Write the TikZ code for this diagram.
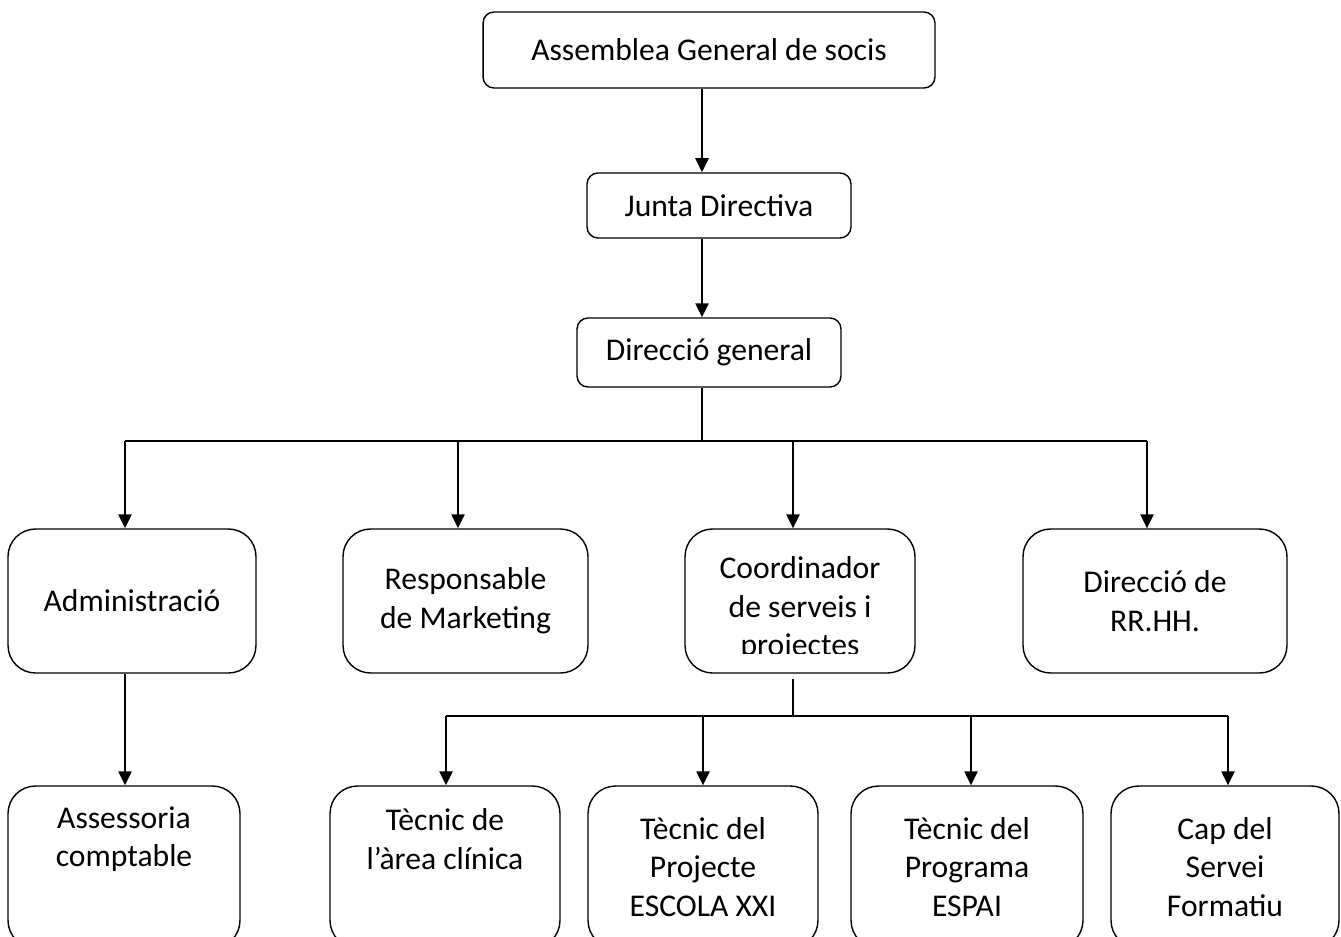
\documentclass[tikz,border=0pt]{standalone}
\usepackage{fontspec}
\setmainfont{Carlito}
\usetikzlibrary{arrows.meta,positioning}

\begin{document}
\begin{tikzpicture}[x=0.02cm,y=-0.02cm,>={Triangle[length=8pt,width=7.5pt]},
                    line width=1.1pt,font=\fontsize{18}{22}\selectfont]
  \tikzstyle{box}=[draw=black,line width=0.8pt,rounded corners=0.22cm,align=center,inner sep=0pt]
  \tikzstyle{midbox}=[box,rounded corners=0.55cm,minimum height=2.88cm]
  \tikzstyle{lowbox}=[box,rounded corners=0.55cm,minimum height=3.24cm]
  \tikzstyle{txt}=[align=center,inner sep=0pt]
  \useasboundingbox (0,0) rectangle (1341,936);

  % top of the chart
  \node[box,minimum width=9.04cm,minimum height=1.52cm] (asm)   at (709,50)    {Assemblea General de socis};
  \node[box,minimum width=5.28cm,minimum height=1.30cm] (junta) at (719,205.5) {Junta Directiva};
  \node[box,minimum width=5.28cm,minimum height=1.38cm] (dir)   at (709,352.5) {Direcció general};

  % second level
  \node[midbox,minimum width=4.96cm] (adm)   at (132,601)   {Administració};
  \node[midbox,minimum width=4.90cm] (mkt)   at (465.5,601) {Responsable\\de Marketing};
  \node[midbox,minimum width=4.60cm] (coord) at (800,601)   {};
  \node[midbox,minimum width=5.28cm] (rrhh)  at (1155,601)  {Direcció de\\RR.HH.};
  \begin{scope}
    \clip (coord.north west) rectangle (915,653);
    \node[txt] (coordtxt) at (800,609) {Coordinador\\de serveis i\\projectes};
  \end{scope}

  % third level
  \node[lowbox,minimum width=4.64cm] (ass)  at (124,867)  {};
  \node[lowbox,minimum width=4.60cm] (clin) at (445,867)  {};
  \node[lowbox,minimum width=4.60cm] (esc)  at (703,867)  {};
  \node[lowbox,minimum width=4.64cm] (esp)  at (967,867)  {};
  \node[lowbox,minimum width=4.56cm] (cap)  at (1225,867) {};
  \node[txt] (asstxt)  at (124,839)  {Assessoria\\comptable};
  \node[txt] (clintxt) at (445,839)  {Tècnic de\\l’àrea clínica};
  \node[txt] (esctxt)  at (703,867)  {Tècnic del\\Projecte\\ESCOLA XXI};
  \node[txt] (esptxt)  at (967,867)  {Tècnic del\\Programa\\ESPAI};
  \node[txt] (captxt)  at (1225,867) {Cap del\\Servei\\Formatiu};

  % connectors
  \coordinate (spine) at (702,441);
  \coordinate (b1) at (125,441);
  \coordinate (b2) at (458,441);
  \coordinate (b3) at (793,441);
  \coordinate (b4) at (1147,441);
  \coordinate (c0) at (793,679);
  \coordinate (c1) at (446,716);
  \coordinate (c2) at (703,716);
  \coordinate (c3) at (971,716);
  \coordinate (c4) at (1228,716);

  \draw[->] (asm.south -| spine) -- (junta.north -| spine);
  \draw[->] (junta.south -| spine) -- (dir.north -| spine);
  \draw (dir.south -| spine) -- (spine);
  \draw (b1) -- (b4);
  \foreach \c/\n in {b1/adm,b2/mkt,b3/coord,b4/rrhh}
    \draw[->] (\c) -- (\c |- \n.north);
  \draw[->] (adm.south -| b1) -- (ass.north -| b1);
  \draw (c0) -- (c0 |- c1);
  \draw (c1) -- (c4);
  \foreach \c/\n in {c1/clin,c2/esc,c3/esp,c4/cap}
    \draw[->] (\c) -- (\c |- \n.north);

\end{tikzpicture}
\end{document}
